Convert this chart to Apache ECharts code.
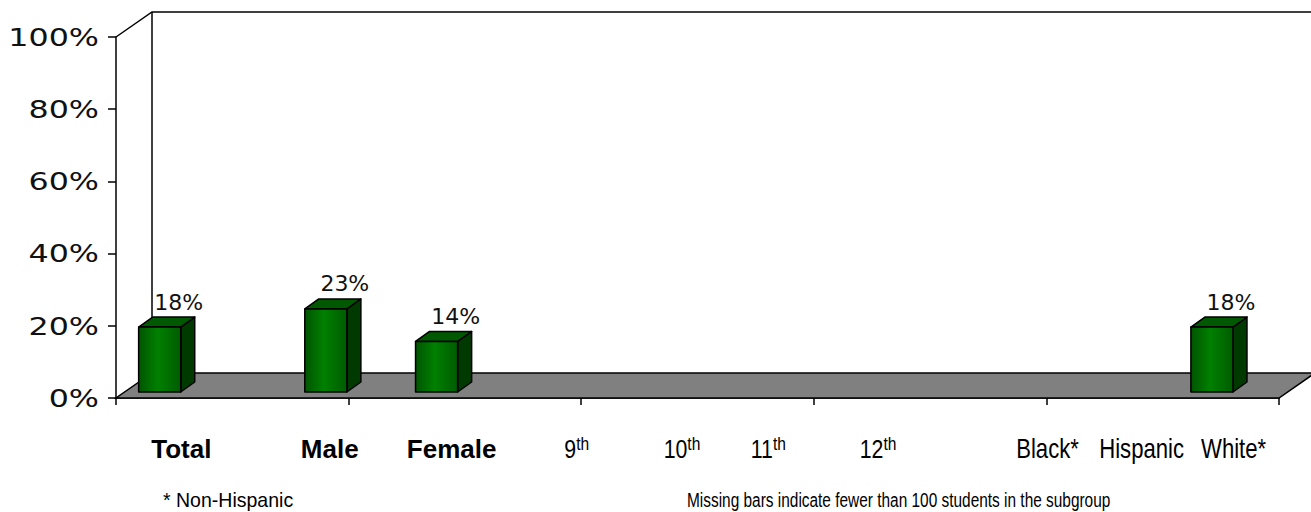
<!DOCTYPE html>
<html><head><meta charset="utf-8">
<script src="https://cdn.jsdelivr.net/npm/echarts@6/dist/echarts.min.js"></script>
<style>html,body{margin:0;padding:0;background:#fff}#c{width:1311px;height:512px}</style>
</head><body><div id="c"></div>
<script>
// ---- data ----
const categories = ['Total', 'Male', 'Female', '9th', '10th', '11th', '12th', 'Black*', 'Hispanic', 'White*'];
const values = [18, 23, 14, null, null, null, null, null, null, 18];
const yTicks = [0, 20, 40, 60, 80, 100];
const footnoteLeft = '* Non-Hispanic';
const footnoteRight = 'Missing bars indicate fewer than 100 students in the subgroup';

// ---- layout (x axis runs 0..105, 5 units per slot, 21 slots) ----
const SLOT = 5;
const barSlot = [0, 3, 5, 7, 9, 11, 13, 16, 18, 19];
const labelAt = [5.9, 19.3, 30.3, 41.6, 51.1, 58.9, 68.8, 84.1, 92.6, 100.9];
const boldLabels = ['Total', 'Male', 'Female'];
const SANS = "'Liberation Sans', Arial, sans-serif";
const NARROW_SCALE = 0.82;
const DEPTH = [36, -25];

const chart = echarts.init(document.getElementById('c'), null, {renderer: 'svg'});

function renderFrame(params, api) {
  const o = api.coord([0, 0]), r = api.coord([105, 0]);
  const t = api.coord([0, 100]), tr = api.coord([105, 100]);
  const d = (p) => [p[0] + DEPTH[0], p[1] + DEPTH[1]];
  return {type: 'group', children: [
    {type: 'polygon', shape: {points: [o, r, d(r), d(o)]},
     style: {fill: '#808080', stroke: '#000', lineWidth: 1.5}},
    {type: 'polyline', shape: {points: [t, d(t), d(tr)]},
     style: {fill: null, stroke: '#000', lineWidth: 1.5}},
    {type: 'line', shape: {x1: d(t)[0], y1: d(t)[1], x2: d(o)[0], y2: d(o)[1]},
     style: {stroke: '#000', lineWidth: 1.5}}
  ]};
}

function renderBar(params, api) {
  const xv = api.value(0), v = api.value(1);
  const base = api.coord([xv, 0]), top = api.coord([xv, v]);
  const unit = api.size([SLOT, 0])[0];
  const w = unit * 0.76;
  const cx = base[0] + 16;
  const x0 = cx - w / 2, x1 = cx + w / 2;
  const yb = base[1] - 6, yt = top[1] - 6;
  const dx = 14, dy = -10;
  const st = {stroke: '#000', lineWidth: 1.5, lineJoin: 'round'};
  const grad = new echarts.graphic.LinearGradient(0, 0, 1, 0, [
    {offset: 0, color: '#005400'}, {offset: 0.45, color: '#008000'}, {offset: 1, color: '#005c00'}
  ]);
  return {type: 'group', children: [
    {type: 'polygon', shape: {points: [[x1, yb], [x1 + dx, yb + dy], [x1 + dx, yt + dy], [x1, yt]]},
     style: Object.assign({fill: '#003a00'}, st)},
    {type: 'polygon', shape: {points: [[x0, yt], [x1, yt], [x1 + dx, yt + dy], [x0 + dx, yt + dy]]},
     style: Object.assign({fill: '#005800'}, st)},
    {type: 'rect', shape: {x: x0, y: yt, width: w, height: yb - yt},
     style: Object.assign({fill: grad}, st)},
    {type: 'text', x: cx + 19, y: yt - 25,
     style: {text: v + '%', fontSize: 22, fontFamily: "'DejaVu Sans', sans-serif", fill: '#111',
             align: 'center', verticalAlign: 'middle'}}
  ]};
}

function renderYLabel(params, api) {
  const val = api.value(1);
  const p = api.coord([0, val]);
  return {type: 'text', x: p[0] - 17, y: p[1], scaleX: 1.27,
    style: {text: val + '%', fontSize: 25, fontFamily: "'DejaVu Sans', sans-serif", fill: '#111',
            align: 'right', verticalAlign: 'middle'}};
}

function renderXLabel(params, api) {
  const k = api.value(2);
  const c = categories[k];
  const p = api.coord([api.value(0), 0]);
  const bold = boldLabels.indexOf(c) >= 0;
  let txt;
  const m = c.match(/^(\d+)(th)$/);
  if (bold) txt = '{b|' + c + '}';
  else if (m) txt = '{n|' + m[1] + '}{s|' + m[2] + '}';
  else txt = '{r|' + c + '}';
  return {type: 'text', x: p[0], y: p[1] + 51, scaleX: bold ? 1 : NARROW_SCALE,
    style: {text: txt, align: 'center', verticalAlign: 'middle', fill: '#000',
      rich: {
        b: {fontFamily: SANS, fontWeight: 'bold', fontSize: 26, lineHeight: 30, fill: '#000'},
        r: {fontFamily: SANS, fontSize: 27, lineHeight: 30, fill: '#000'},
        n: {fontFamily: SANS, fontSize: 26, lineHeight: 30, fill: '#000'},
        s: {fontFamily: SANS, fontSize: 19, lineHeight: 20, verticalAlign: 'top', fill: '#000'}
      }}};
}

const barData = [];
values.forEach((v, i) => { if (v != null) barData.push([barSlot[i] * SLOT + SLOT / 2, v]); });

chart.setOption({
  animation: false,
  backgroundColor: '#fff',
  grid: {left: 116, right: 32, top: 37, bottom: 114, containLabel: false, outerBoundsMode: 'none'},
  xAxis: {
    type: 'value', min: 0, max: 105, interval: 21,
    axisLine: {show: true, onZero: false, lineStyle: {color: '#000', width: 1.5}},
    axisTick: {show: true, length: 7, lineStyle: {color: '#000', width: 1.5}},
    splitLine: {show: false},
    axisLabel: {show: false}
  },
  yAxis: {
    type: 'value', min: 0, max: 100, interval: 20,
    axisLine: {show: true, lineStyle: {color: '#000', width: 1.5}},
    axisTick: {show: true, length: 8, lineStyle: {color: '#000', width: 1.5}},
    axisLabel: {show: false},
    splitLine: {show: false}
  },
  series: [
    {type: 'custom', silent: true, z: 1, renderItem: renderFrame, data: [[0, 0]], clip: false},
    {type: 'custom', silent: true, z: 3, renderItem: renderBar, data: barData, clip: false},
    {type: 'custom', silent: true, z: 3, renderItem: renderYLabel, data: yTicks.map(t => [0, t]), clip: false},
    {type: 'custom', silent: true, z: 3, renderItem: renderXLabel,
     data: categories.map((c, i) => [labelAt[i], 0, i]), clip: false}
  ],
  graphic: [
    {type: 'text', x: 163, y: 500, scaleX: 0.93,
     style: {text: footnoteLeft, fontSize: 21, fontFamily: SANS, fill: '#000', align: 'left', verticalAlign: 'middle'}},
    {type: 'text', x: 687, y: 500, scaleX: 0.735,
     style: {text: footnoteRight, fontSize: 21, fontFamily: SANS, fill: '#000', align: 'left', verticalAlign: 'middle'}}
  ]
});
</script></body></html>
